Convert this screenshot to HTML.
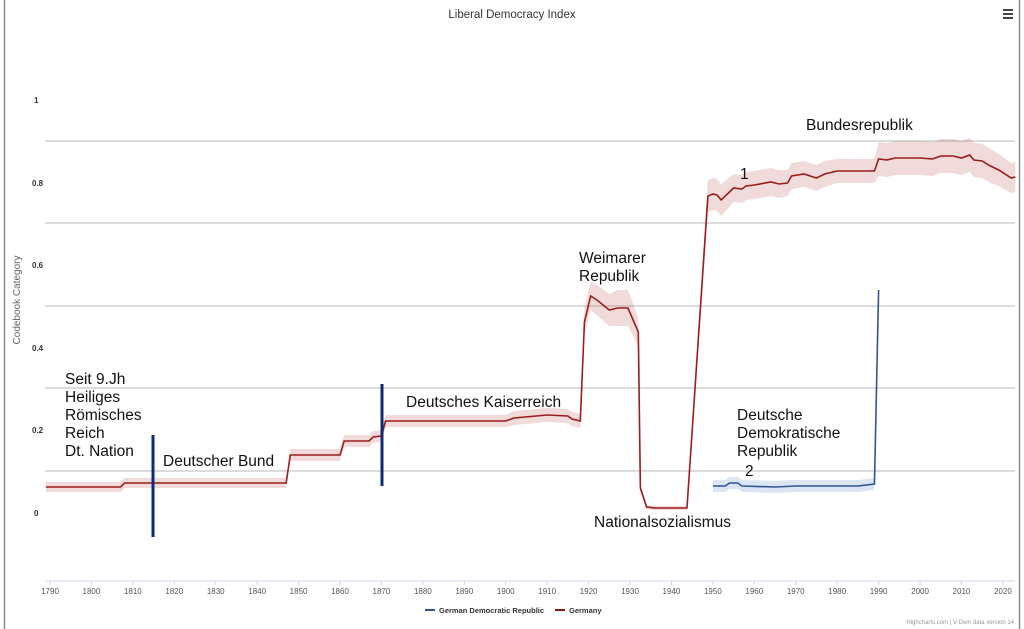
<!DOCTYPE html>
<html><head><meta charset="utf-8"><style>
html,body{margin:0;padding:0;background:#fff;width:1024px;height:629px;overflow:hidden;font-family:"Liberation Sans",sans-serif}
svg{display:block}
</style></head><body>
<svg id="s" width="1024" height="629" viewBox="0 0 1024 629" xmlns="http://www.w3.org/2000/svg" font-family="Liberation Sans, sans-serif">
<rect width="1024" height="629" fill="#fff"/>
<line x1="4.5" y1="0" x2="4.5" y2="629" stroke="#888" stroke-width="1.5"/>
<line x1="1019.5" y1="0" x2="1019.5" y2="629" stroke="#888" stroke-width="1.5"/>
<text x="512" y="18" text-anchor="middle" font-size="11.5" fill="#333">Liberal Democracy Index</text>
<g stroke="#444" stroke-width="2"><line x1="1003" y1="10" x2="1013" y2="10"/><line x1="1003" y1="14" x2="1013" y2="14"/><line x1="1003" y1="18" x2="1013" y2="18"/></g>
<g stroke="#c8c8c8" stroke-width="1.3">
<line x1="45" y1="141" x2="1015" y2="141"/><line x1="45" y1="223" x2="1015" y2="223"/><line x1="45" y1="306" x2="1015" y2="306"/><line x1="45" y1="388" x2="1015" y2="388"/><line x1="45" y1="471" x2="1015" y2="471"/>
</g>
<g font-size="8" fill="#333" font-weight="bold"><text x="34" y="103">1</text><text x="32" y="186">0.8</text><text x="32" y="268">0.6</text><text x="32" y="351">0.4</text><text x="32" y="433">0.2</text><text x="34" y="516">0</text></g>
<text transform="translate(20,300) rotate(-90)" text-anchor="middle" font-size="10" fill="#666">Codebook Category</text>
<line x1="45" y1="581" x2="1015" y2="581" stroke="#ccd6eb" stroke-width="1"/>
<g id="xt" font-size="8" fill="#555" text-anchor="middle"></g>
<g id="band"></g>
<g id="lines"></g>
<g stroke="#0d2b7a" stroke-width="3"><line x1="153" y1="435" x2="153" y2="537"/><line x1="382" y1="384" x2="382" y2="486"/></g>
<g font-size="15.5" fill="#111">
<text x="65" y="384">Seit 9.Jh</text><text x="65" y="402">Heiliges</text><text x="65" y="420">Römisches</text><text x="65" y="438">Reich</text><text x="65" y="456">Dt. Nation</text>
<text x="163" y="466">Deutscher Bund</text>
<text x="406" y="407">Deutsches Kaiserreich</text>
<text x="579" y="263">Weimarer</text><text x="579" y="281">Republik</text>
<text x="594" y="527">Nationalsozialismus</text>
<text x="740" y="179">1</text>
<text x="806" y="130">Bundesrepublik</text>
<text x="737" y="420">Deutsche</text><text x="737" y="438">Demokratische</text><text x="737" y="456">Republik</text>
<text x="745" y="476">2</text>
</g>
<line x1="425" y1="610" x2="435" y2="610" stroke="#2f5597" stroke-width="2"/>
<text x="439" y="613" font-size="7.5" font-weight="bold" fill="#333">German Democratic Republic</text>
<line x1="555" y1="610" x2="565" y2="610" stroke="#8b1a1a" stroke-width="2"/>
<text x="569" y="613" font-size="7.5" font-weight="bold" fill="#333">Germany</text>
<text x="1014" y="624" font-size="6" fill="#999" text-anchor="end">Highcharts.com | V-Dem data version 14</text>
</svg>
<script>
var X=function(y){return 50+(y-1790)*4.143;};
var NS="http://www.w3.org/2000/svg";
var xt=document.getElementById('xt');
for(var y=1790;y<=2020;y+=10){var t=document.createElementNS(NS,'text');t.setAttribute('x',X(y));t.setAttribute('y',594);t.textContent=y;xt.appendChild(t);
var l=document.createElementNS(NS,'line');l.setAttribute('x1',X(y));l.setAttribute('x2',X(y));l.setAttribute('y1',581);l.setAttribute('y2',585);l.setAttribute('stroke','#ccd6eb');xt.appendChild(l);}
var G=[[1789,487,5],[1807,487,5],[1808,483,5],[1847,483,5],[1848,455,6],[1860,455,6],[1861,441,6],[1867,441,6],[1868,437,6],[1870,436,6],[1871,421,6],[1900,421,6],[1902,418,7],[1910,415,7],[1915,416,7],[1916,419,7],[1918,421,7],[1919,322,14],[1920.5,296,14],[1922,300,15],[1925,310,16],[1927,308,18],[1929.5,308,18],[1932,332,14],[1932.5,488,4],[1934,507,2],[1936,508,2],[1943.75,508,2],[1948.8,196,16],[1950,194,16],[1951,195,16],[1952,200,16],[1955,188,14],[1957,189,14],[1958,186,14],[1960,185,14],[1964,182,14],[1966,184,14],[1968,183,13],[1969,176,13],[1972,174,13],[1975,178,13],[1977,174,13],[1980,171,12],[1989,171,12],[1990,159,17],[1992,160,17],[1994,158,17],[2000,158,17],[2003,159,17],[2005,156,17],[2008,156,17],[2010,158,17],[2012,155,17],[2013,160,17],[2015,161,17],[2017,166,17],[2019,170,16],[2022,178,15],[2023,177,15]];
var D=[[1950,486,6],[1953,486,6],[1954,483,6],[1956,483,6],[1957,486,6],[1965,487,6],[1970,486,6],[1985,486,6],[1989,484,6],[1990,290,18]];
function band(a,col){var up=a.map(function(p){return X(p[0])+','+(p[1]-p[2]);});var dn=a.slice().reverse().map(function(p){return X(p[0])+','+(p[1]+p[2]);});
var pg=document.createElementNS(NS,'polygon');pg.setAttribute('points',up.concat(dn).join(' '));pg.setAttribute('fill',col);document.getElementById('band').appendChild(pg);}
function line(a,col){var pl=document.createElementNS(NS,'polyline');pl.setAttribute('points',a.map(function(p){return X(p[0])+','+p[1];}).join(' '));pl.setAttribute('fill','none');pl.setAttribute('stroke',col);pl.setAttribute('stroke-width','1.6');document.getElementById('lines').appendChild(pl);}
band(G,'rgba(180,70,70,0.2)');band(D.slice(0,9),'rgba(60,110,190,0.18)');
line(G,'#9b1c1c');line(D,'#2f5597');
</script>
</body></html>
